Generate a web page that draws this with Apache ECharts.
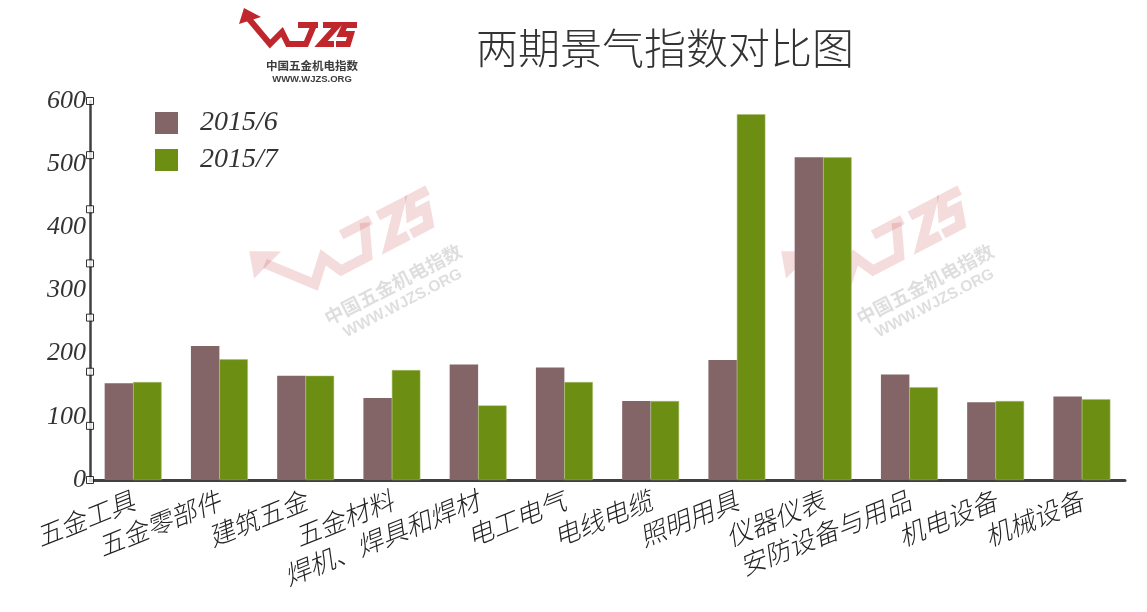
<!DOCTYPE html>
<html>
<head>
<meta charset="utf-8">
<script src="https://cdn.jsdelivr.net/npm/echarts@6/dist/echarts.min.js"></script>
<style>html,body{margin:0;padding:0;background:#fff}#main{width:1147px;height:612px}</style>
</head>
<body>
<div id="main"></div>
<script>
const categories = ['五金工具','五金零部件','建筑五金','五金材料','焊机、焊具和焊材','电工电气','电线电缆','照明用具','仪器仪表','安防设备与用品','机电设备','机械设备'];
const seriesNames = ['2015/6','2015/7'];
const june = [153, 212, 165, 130, 183, 178, 125, 190, 511, 167, 123, 132];
const july = [155, 191, 165, 174, 118, 155, 125, 579, 511, 147, 125, 128];
const yTicks = [0, 100, 200, 300, 400, 500, 600];
const tickMarks = [0, 85.7, 171.4, 257.1, 342.9, 428.6, 514.3, 600];
const titleText = '两期景气指数对比图';

const RED = '#c0272d';
function logo(cx, cy, rot, scale, op) {
  const o = (p) => [p[0] - 62, p[1] - 45];
  const line = (pts) => ({type:'polyline', shape:{points:pts.map(o)}, style:{stroke:RED, lineWidth:6, fill:null, lineJoin:'miter', opacity:op}});
  const ch = [
    {type:'polygon', shape:{points:[[9,8],[4,24],[26,17]].map(o)}, style:{fill:RED, opacity:op}},
    line([[14,19],[35,44],[47,32],[53,44],[71,44],[79,25]]),
    line([[63,25],[83,25]]),
    line([[88,25],[103,25],[86,44],[99,44]]),
    line([[122,25],[110,25],[106,34],[116,34],[113,44],[101,44]]),
    {type:'text', style:{text:'中国五金机电指数', x:77-62, y:66-45, font:'bold 11.5px "Noto Sans CJK SC"', fill:'#3c3c3c', textAlign:'center', textVerticalAlign:'middle', opacity:op}},
    {type:'text', style:{text:'WWW.WJZS.ORG', x:77-62, y:79-45, font:'bold 9.5px "Liberation Sans"', fill:'#3c3c3c', textAlign:'center', textVerticalAlign:'middle', opacity:op}}
  ];
  return {type:'group', x:cx, y:cy, rotation:rot, scaleX:scale, scaleY:scale, silent:true, z:100, children:ch};
}

const chart = echarts.init(document.getElementById('main'));
chart.setOption({
  backgroundColor:'#fff',
  animation:false,
  grid:{left:90, right:22, top:101, bottom:132},
  legend:{
    data:seriesNames, orient:'vertical', left:155, top:109, padding:0,
    itemWidth:23, itemHeight:22, itemGap:9, icon:'rect',
    itemStyle:{borderWidth:0},
    textStyle:{fontFamily:'Liberation Serif', fontStyle:'italic', fontSize:28, color:'#333', padding:[0,0,0,17]}
  },
  xAxis:[{
    type:'category', data:categories,
    axisLine:{lineStyle:{color:'#404040', width:3}},
    axisTick:{show:false},
    axisLabel:{rotate:22, interval:0, margin:19, fontFamily:'Noto Sans CJK SC', fontStyle:'italic', fontWeight:300, fontSize:26, color:'#222'}
  },{
    type:'value', min:0, max:1, show:false
  }],
  yAxis:{
    type:'value', min:yTicks[0], max:yTicks[yTicks.length-1], interval:100,
    axisLine:{show:true, lineStyle:{color:'#404040', width:2.5}},
    axisTick:{show:false}, splitLine:{show:false},
    axisLabel:{fontFamily:'Liberation Serif', fontStyle:'italic', fontSize:26, color:'#333', margin:4}
  },
  series:[
    {name:seriesNames[0], type:'bar', data:june, barGap:'0%', barCategoryGap:'34%', itemStyle:{color:'#836567'}},
    {name:seriesNames[1], type:'bar', data:july, itemStyle:{color:'#6c8f13', borderColor:'#a9b86a', borderWidth:0.5}},
    {type:'scatter', xAxisIndex:1, data:tickMarks.map(v=>[0,v]), symbol:'rect', symbolSize:7, clip:false, z:10,
     itemStyle:{color:'#fff', borderColor:'#000', borderWidth:1}, silent:true}
  ],
  graphic:[
    {type:'text', z:100, style:{text:titleText, x:665, y:48, font:'300 42px "Noto Sans CJK SC"', fill:'#333', textAlign:'center', textVerticalAlign:'middle'}},
    logo(297, 45, 0, 1, 1),
    logo(355, 265, 0.48, 1.65, 0.17),
    logo(887, 265, 0.48, 1.65, 0.17)
  ]
});
</script>
</body>
</html>
